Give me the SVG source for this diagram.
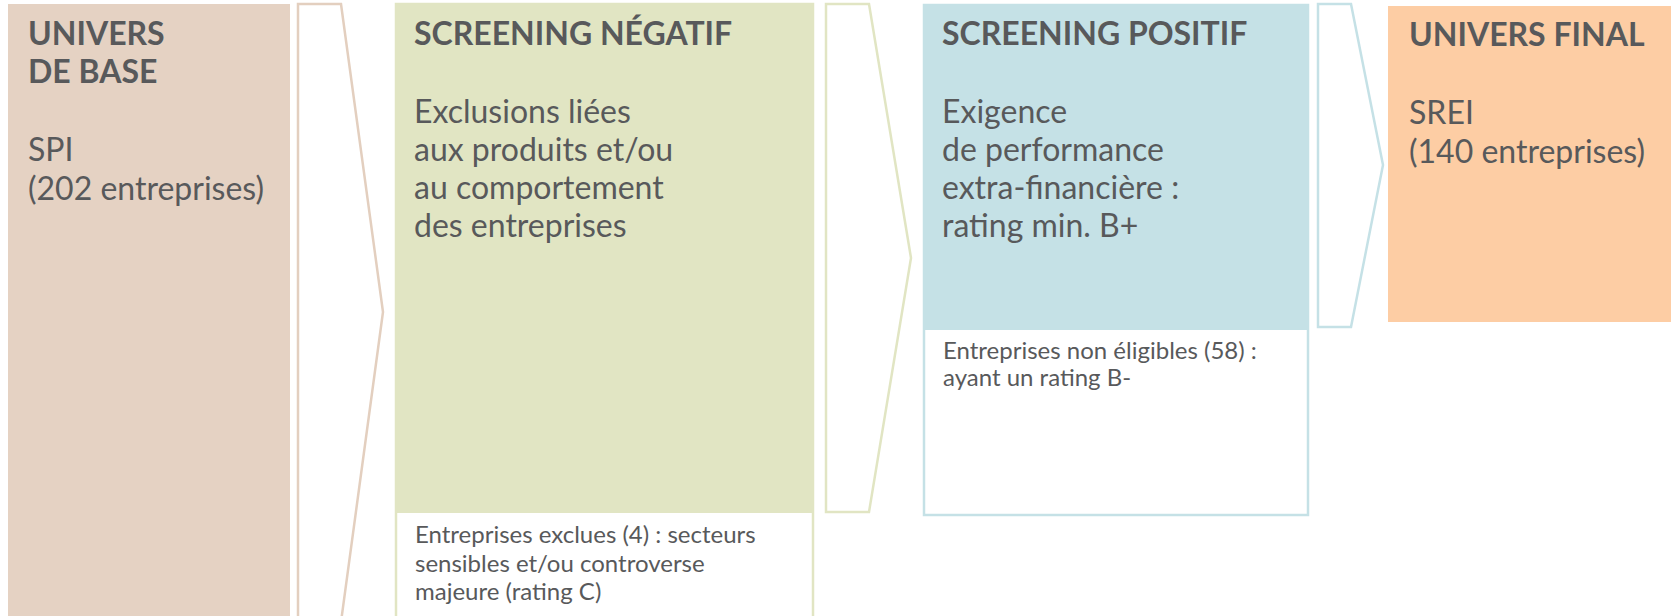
<svg xmlns="http://www.w3.org/2000/svg" width="1677" height="616" viewBox="0 0 1677 616">
<style>
text{font-family:Lato,"Open Sans","Liberation Sans",sans-serif;fill:#58595b}
.t{font-weight:700;font-size:32px}
.b{font-size:32px}
.s{font-size:24px}
.arrow{fill:#fff;stroke-width:2.5}
</style>
<rect width="1677" height="616" fill="#fff"/>
<g id="connectors">
<polygon class="arrow" points="298,4 341,4 383,312 341,622 298,622" stroke="#e3cfbf"/>
<polygon class="arrow" points="826,4 869,4 911,258 869,512 826,512" stroke="#e1e5c3"/>
<polygon class="arrow" points="1318,4 1351,4 1383,165 1351,327 1318,327" stroke="#c5e1e6"/>
</g>
<g id="univers-base">
<rect x="8" y="4" width="282" height="620" fill="#e5d2c3"/>
<text class="t" x="28" y="45">UNIVERS</text>
<text class="t" x="28" y="83">DE BASE</text>
<text class="b" x="28" y="161">SPI</text>
<text class="b" x="28" y="200">(202 entreprises)</text>
</g>
<g id="screening-negatif">
<rect x="396" y="4" width="417" height="620" fill="#fff" stroke="#e1e5c3" stroke-width="2.5"/>
<rect x="395" y="4" width="419" height="509" fill="#e1e5c3"/>
<text class="t" x="414" y="45">SCREENING NÉGATIF</text>
<text class="b" x="414" y="123">Exclusions liées</text>
<text class="b" x="414" y="161">aux produits et/ou</text>
<text class="b" x="414" y="199">au comportement</text>
<text class="b" x="414" y="237">des entreprises</text>
<text class="s" x="415" y="543">Entreprises exclues (4) : secteurs</text>
<text class="s" x="415" y="572">sensibles et/ou controverse</text>
<text class="s" x="415" y="600">majeure (rating C)</text>
</g>
<g id="screening-positif">
<rect x="924" y="5" width="384" height="510" fill="#fff" stroke="#c5e1e6" stroke-width="2.5"/>
<rect x="923" y="4" width="386" height="326" fill="#c5e1e6"/>
<text class="t" x="942" y="45">SCREENING POSITIF</text>
<text class="b" x="942" y="123">Exigence</text>
<text class="b" x="942" y="161">de performance</text>
<text class="b" x="942" y="199">extra-financière :</text>
<text class="b" x="942" y="237">rating min. B+</text>
<text class="s" x="943" y="359">Entreprises non éligibles (58) :</text>
<text class="s" x="943" y="386">ayant un rating B-</text>
</g>
<g id="univers-final">
<rect x="1388" y="6" width="283" height="316" fill="#fdcda4"/>
<text class="t" x="1409" y="46">UNIVERS FINAL</text>
<text class="b" x="1409" y="124">SREI</text>
<text class="b" x="1409" y="163">(140 entreprises)</text>
</g>
</svg>
